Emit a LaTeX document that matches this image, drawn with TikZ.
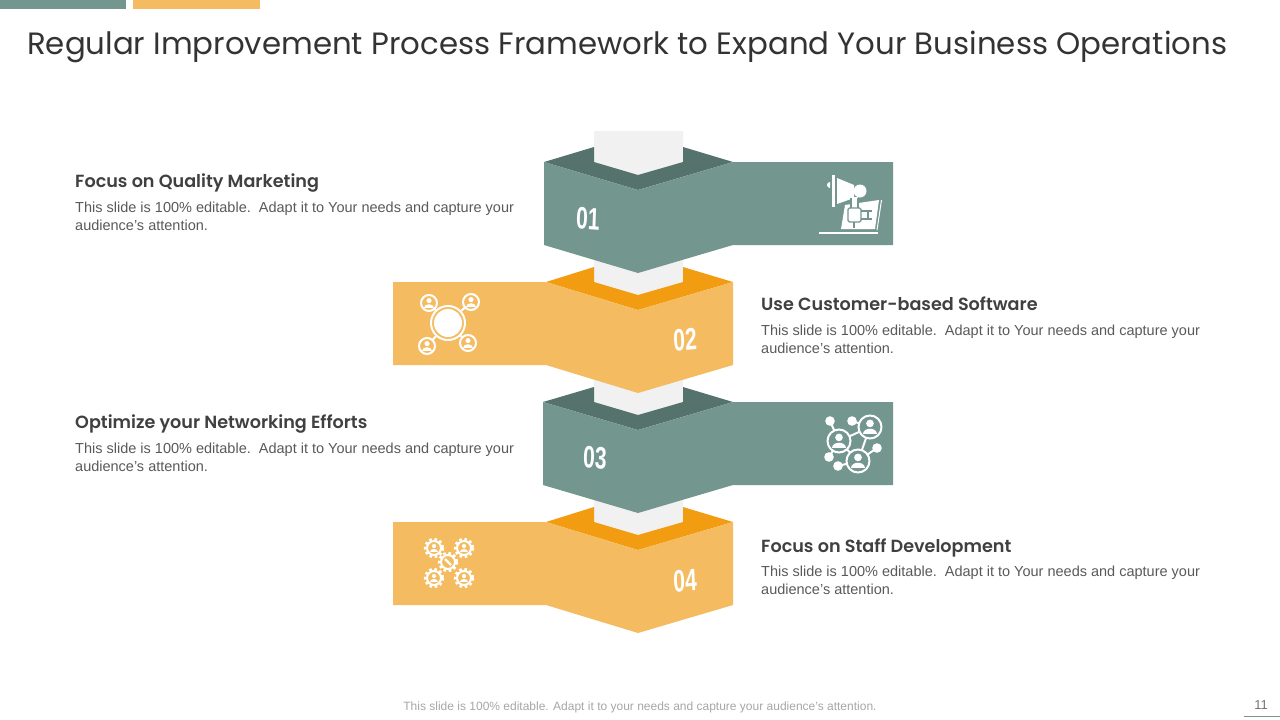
\documentclass[tikz,border=0pt]{standalone}
\usepackage{fontspec}
\setmainfont{Liberation Sans}
\newfontfamily\headfont{Poppins}
\newfontfamily\subheadfont{Poppins SemiBold}
\usetikzlibrary{positioning}
\definecolor{sage}{HTML}{73968F}
\definecolor{sagedark}{HTML}{56726C}
\definecolor{gold}{HTML}{F4BB60}
\definecolor{golddark}{HTML}{F29C12}
\definecolor{paleback}{HTML}{F1F1F1}
\definecolor{inktitle}{HTML}{333333}
\definecolor{inkhead}{HTML}{404040}
\definecolor{inkbody}{HTML}{595959}
\tikzset{
    titletext/.style={anchor=west, inner sep=0pt, text=inktitle, font=\headfont\fontsize{30.8}{36}\selectfont},
    headtext/.style={anchor=west, inner sep=0pt, text height=13pt, text depth=4pt, text=inkhead, font=\subheadfont\fontsize{17.6}{22}\selectfont},
    bodytext/.style={inner sep=0pt, align=left, text=inkbody, font=\fontsize{14.5}{18}\selectfont},
    numtext/.style={inner sep=0pt, text=white, xscale=0.68, font=\bfseries\fontsize{31}{36}\selectfont},
    iconline/.style={draw=white, line width=2pt},
    iconfill/.style={fill=white},
    geartooth/.style={draw=white, line width=2.8pt, dash pattern=on 2.6pt off 2.6pt},
    gearring/.style={draw=white, line width=2pt},
    pics/person/.style={code={
        \path[pic actions] (0,-3) circle (3.2);
        \path[pic actions] (-6,6) .. controls (-6,0) and (6,0) .. (6,6) -- cycle;
    }},
}
\begin{document}
\begin{tikzpicture}[x=1pt, y=-1pt]
    \useasboundingbox (0,0) rectangle (1280,720);

    \fill[sage] (0,0) rectangle (126,9);
    \fill[gold] (133,0) rectangle (260,9);
    \node[titletext] (title) at (27,47) {Regular Improvement Process Framework to Expand Your Business Operations};

    % band 04
    \fill[paleback] (594,491) -- (683,491) -- (683,522) -- (638,535) -- (594,522) -- cycle;
    \fill[golddark] (546,522) -- (594,507) -- (594,522) -- (638,535) -- (683,522) -- (683,507) -- (733,522) -- (638,550) -- cycle;
    \fill[gold] (393,522) -- (546,522) -- (638,550) -- (733,522) -- (733,605) -- (638,633) -- (546,605) -- (393,605) -- cycle;
    % band 03
    \fill[paleback] (594,371) -- (683,371) -- (683,402) -- (638,415) -- (594,402) -- cycle;
    \fill[sagedark] (543,402) -- (594,387) -- (594,402) -- (638,415) -- (683,402) -- (683,387) -- (733,402) -- (638,430) -- cycle;
    \fill[sage] (543,402) -- (638,430) -- (733,402) -- (893,402) -- (893,485) -- (733,485) -- (638,513) -- (543,485) -- cycle;
    % band 02
    \fill[paleback] (594,251) -- (683,251) -- (683,282) -- (638,295) -- (594,282) -- cycle;
    \fill[golddark] (546,282) -- (594,267) -- (594,282) -- (638,295) -- (683,282) -- (683,267) -- (733,282) -- (638,310) -- cycle;
    \fill[gold] (393,282) -- (546,282) -- (638,310) -- (733,282) -- (733,365) -- (638,393) -- (546,365) -- (393,365) -- cycle;
    % band 01
    \fill[paleback] (594,131) -- (683,131) -- (683,162) -- (638,175) -- (594,162) -- cycle;
    \fill[sagedark] (544,162) -- (594,147) -- (594,162) -- (638,175) -- (683,162) -- (683,147) -- (733,162) -- (638,190) -- cycle;
    \fill[sage] (544,162) -- (638,190) -- (733,162) -- (893,162) -- (893,245) -- (733,245) -- (638,273) -- (544,245) -- cycle;

    \node[numtext, rotate=-3] (n1) at (588,219) {01};
    \node[numtext, rotate=4] (n2) at (685,340) {02};
    \node[numtext, rotate=-3] (n3) at (595,458) {03};
    \node[numtext, rotate=4] (n4) at (685,581) {04};

    % megaphone on a screen
    \fill[white] (832,175) rectangle (834.5,207);
    \fill[white] (837,178) -- (854,185) -- (854,198) -- (837,204) -- cycle;
    \fill[white] (860,191) circle (6.5);
    \fill[white] (830,188) arc (90:270:3) -- cycle;
    \fill[white] (845,205) -- (879,200) -- (875,229) -- (841,229) -- cycle;
    \draw[white, line width=1pt] (881.5,200) -- (877,230);
    \fill[white] (851,197) rectangle (858,207);
    \draw[sage, line width=1.3pt, rounded corners=1.5pt] (848,208) rectangle (861,222);
    \draw[sage, line width=1.3pt] (851,198) -- (851,208) (858,198) -- (858,208) (854,222) -- (854,228) (861,211) -- (872,211) (861,219) -- (872,219) (868,211) -- (868,219);
    \draw[white, line width=1.6pt] (819,233) -- (878,233);

    % people around a globe
    \draw[iconline] (448,323) -- (429,303) (448,323) -- (471,302) (448,323) -- (427,346) (448,323) -- (468,343);
    \fill[gold] (448,323) circle (18);
    \draw[iconline] (448,323) circle (17);
    \fill[white] (448,323) circle (14);
    \fill[gold] (429,303) circle (8);
    \fill[gold] (471,302) circle (8);
    \fill[gold] (427,346) circle (8);
    \fill[gold] (468,343) circle (8);
    \draw[iconline] (429,303) circle (8);
    \draw[iconline] (471,302) circle (8);
    \draw[iconline] (427,346) circle (8);
    \draw[iconline] (468,343) circle (8);
    \pic[iconfill, scale=0.8] at (429,303) {person};
    \pic[iconfill, scale=0.8] at (471,302) {person};
    \pic[iconfill, scale=0.8] at (427,346) {person};
    \pic[iconfill, scale=0.8] at (468,343) {person};

    % network of people
    \draw[iconline] (830,421) -- (839,441) (852,421) -- (870,427) (870,427) -- (839,441) (870,427) -- (858,461) (839,441) -- (858,461) (877,448) -- (858,461) (829,457) -- (839,441) (838,466) -- (858,461);
    \fill[sage] (839,441) circle (11.5);
    \fill[sage] (870,427) circle (11.5);
    \fill[sage] (858,461) circle (11.5);
    \draw[iconline] (839,441) circle (11.5);
    \draw[iconline] (870,427) circle (11.5);
    \draw[iconline] (858,461) circle (11.5);
    \pic[iconfill, scale=1.2] at (839,441) {person};
    \pic[iconfill, scale=1.2] at (870,427) {person};
    \pic[iconfill, scale=1.2] at (858,461) {person};
    \fill[white] (830,421) circle (4.8);
    \fill[white] (852,421) circle (4.8);
    \fill[white] (877,448) circle (4.8);
    \fill[white] (829,457) circle (4.8);
    \fill[white] (838,466) circle (4.8);

    % gears
    \draw[geartooth] (434,548) circle (8.8);
    \draw[geartooth] (464,548) circle (8.8);
    \draw[geartooth] (434,578) circle (8.8);
    \draw[geartooth] (464,578) circle (8.8);
    \draw[geartooth] (448,562) circle (8.8);
    \draw[gearring] (434,548) circle (7);
    \draw[gearring] (464,548) circle (7);
    \draw[gearring] (434,578) circle (7);
    \draw[gearring] (464,578) circle (7);
    \draw[gearring] (448,562) circle (7);
    \draw[white, line width=2.4pt] (445,559) -- (451,565);
    \pic[iconfill, scale=0.65] at (434,548) {person};
    \pic[iconfill, scale=0.65] at (464,548) {person};
    \pic[iconfill, scale=0.65] at (434,578) {person};
    \pic[iconfill, scale=0.65] at (464,578) {person};

    % captions
    \node[headtext] (h1) at (75,182.5) {Focus on Quality Marketing};
    \node[bodytext, below=10.5pt of h1.south west, anchor=north west] (b1) {This slide is 100\% editable.\ \ Adapt it to Your needs and capture your\\audience’s attention.};
    \node[headtext] (h2) at (761,305.5) {Use Customer-based Software};
    \node[bodytext, below=10.5pt of h2.south west, anchor=north west] (b2) {This slide is 100\% editable.\ \ Adapt it to Your needs and capture your\\audience’s attention.};
    \node[headtext] (h3) at (75,423.5) {Optimize your Networking Efforts};
    \node[bodytext, below=10.5pt of h3.south west, anchor=north west] (b3) {This slide is 100\% editable.\ \ Adapt it to Your needs and capture your\\audience’s attention.};
    \node[headtext] (h4) at (761,547.5) {Focus on Staff Development};
    \node[bodytext, below=9.5pt of h4.south west, anchor=north west] (b4) {This slide is 100\% editable.\ \ Adapt it to Your needs and capture your\\audience’s attention.};

    \node[inner sep=0pt, text=black!35, font=\fontsize{12}{14}\selectfont] (foot) at (640,707) {This slide is 100\% editable. Adapt it to your needs and capture your audience’s attention.};
    \node[inner sep=0pt, text=black!55, font=\fontsize{13}{15}\selectfont] (pagenum) at (1261,705) {11};
    \coordinate (ruleA) at (1244,716);
    \coordinate (ruleB) at (1280,716);
    \draw[sage, line width=0.8pt] (ruleA) -- (ruleB);
\end{tikzpicture}
\end{document}
